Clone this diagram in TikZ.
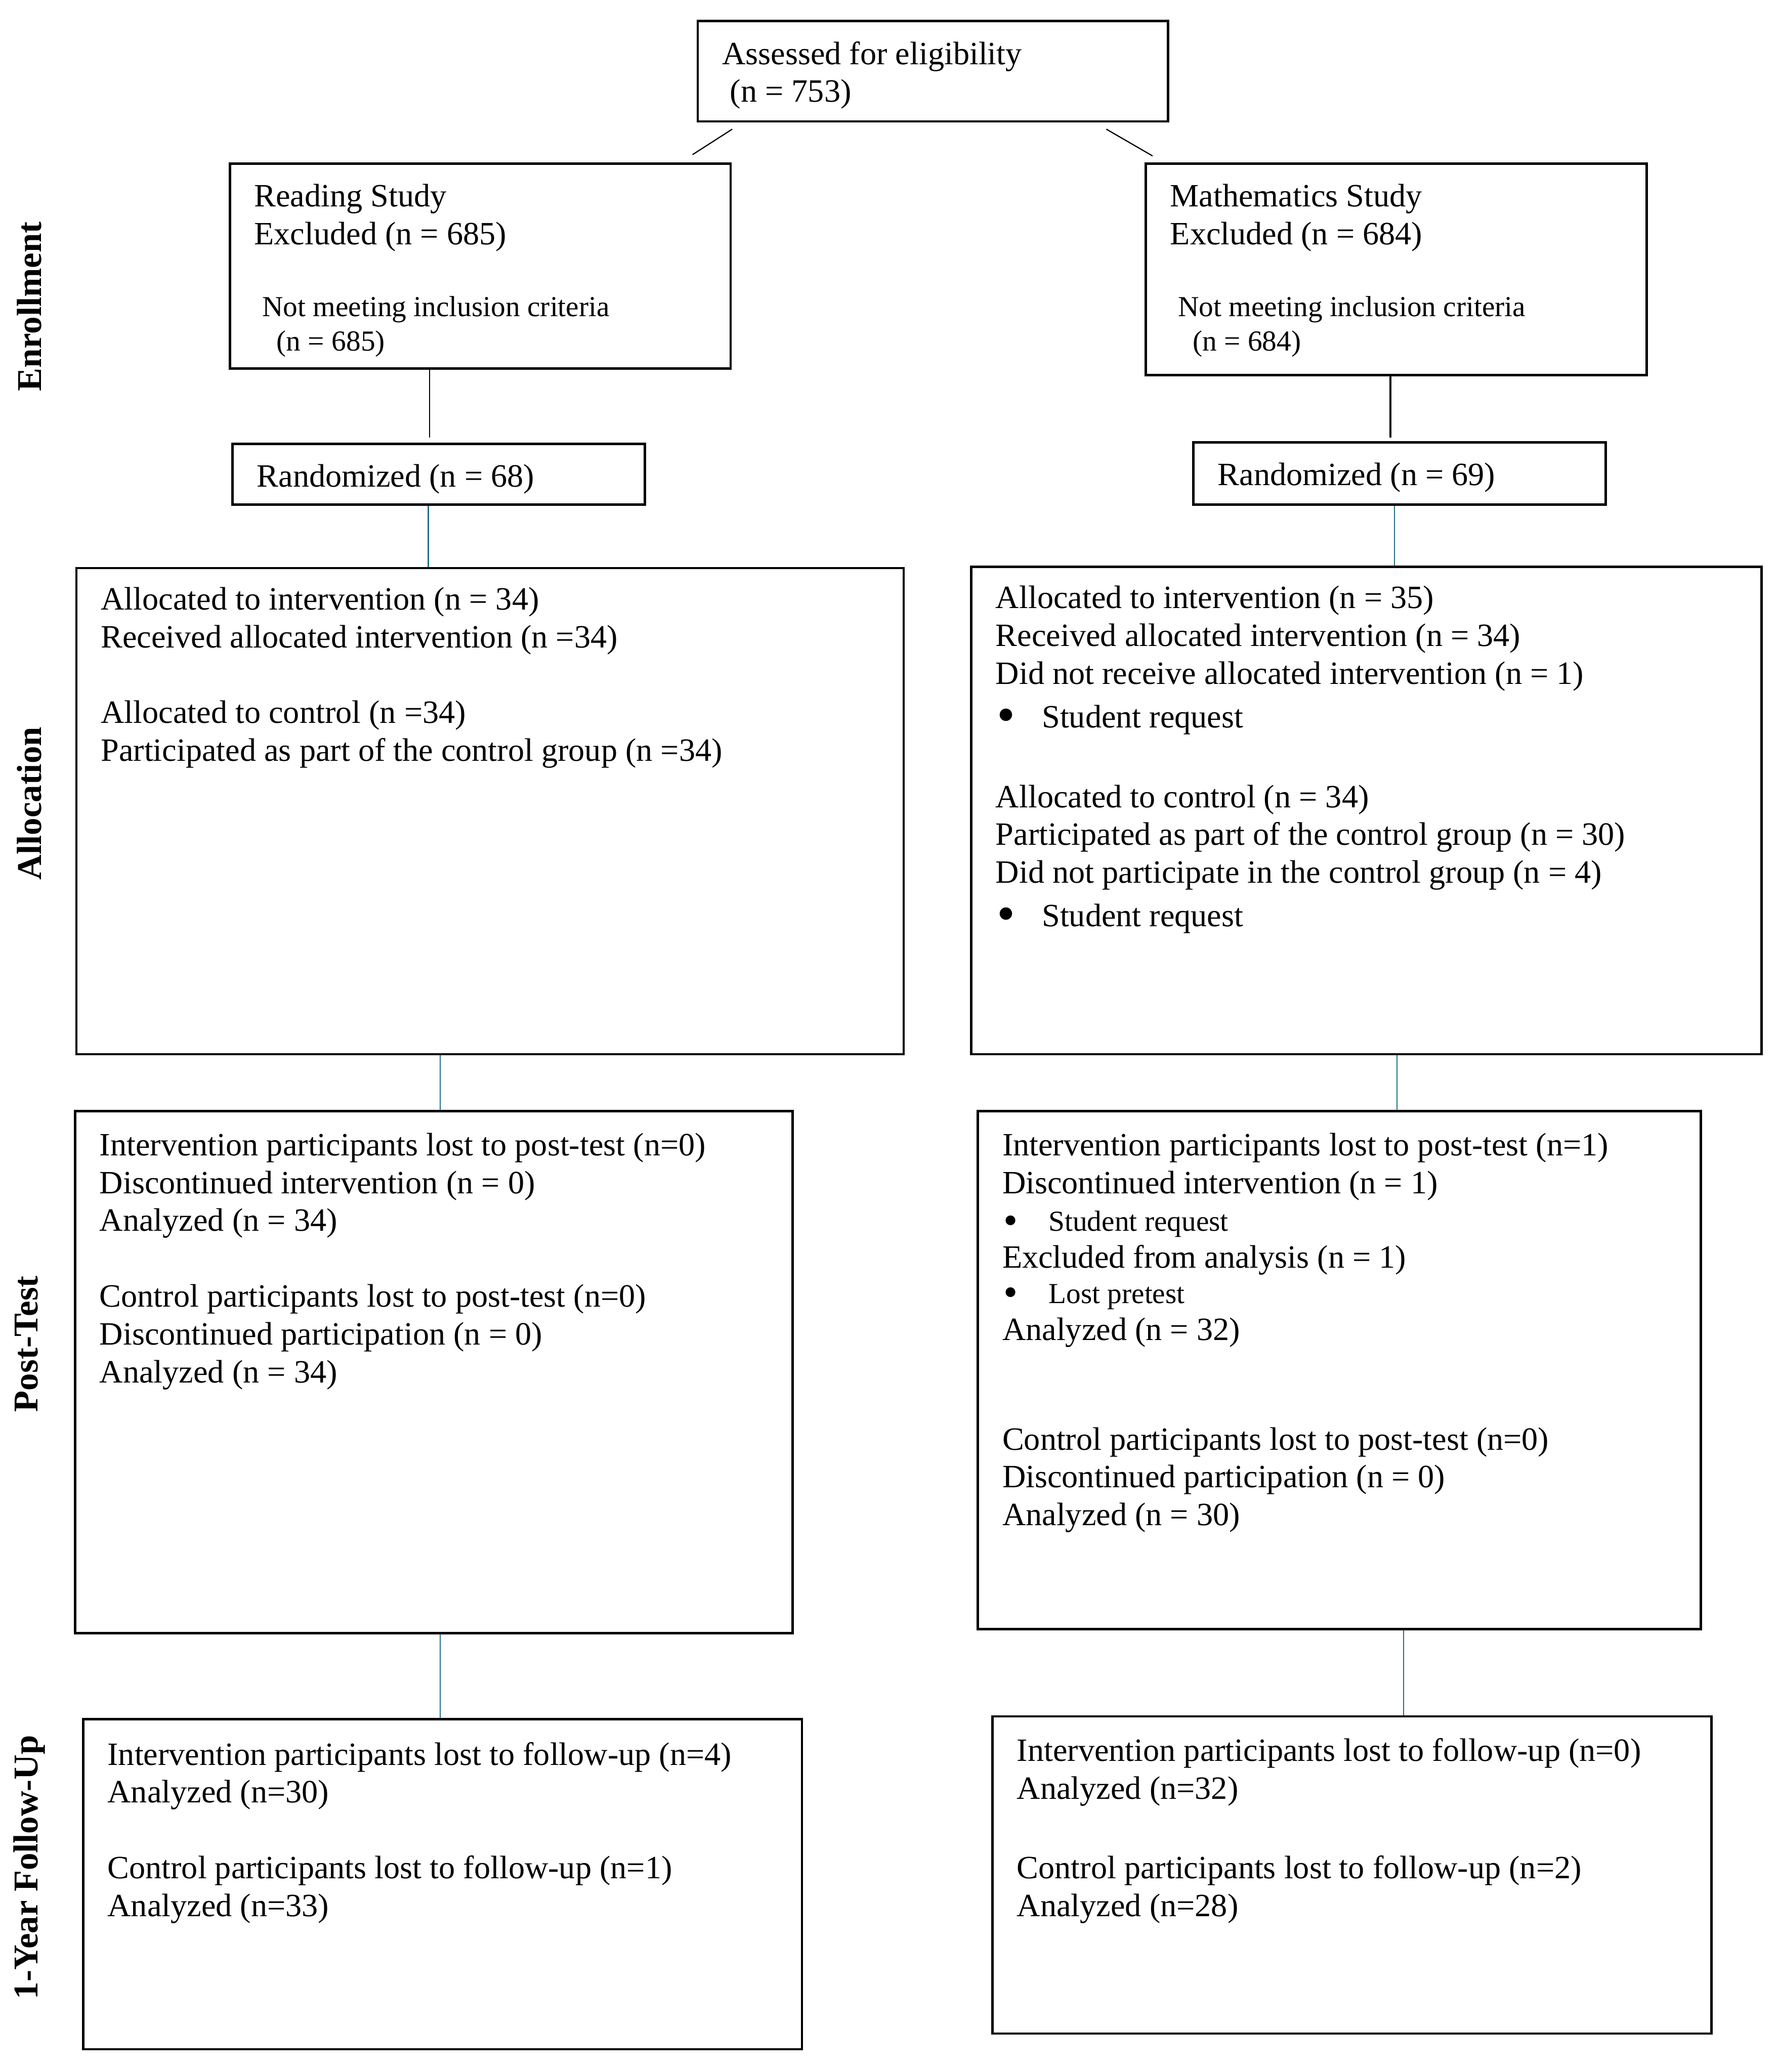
\documentclass[tikz,border=0pt]{standalone}
\usepackage{fontspec}
\setmainfont{Liberation Serif}
\usetikzlibrary{positioning}

\definecolor{linkblue}{RGB}{31,110,140}
\newcommand{\mainsize}{\fontsize{14}{16.3}\selectfont}
\newcommand{\smallsize}{\fontsize{12.5}{14.8}\selectfont}
\newcommand{\bul}[1]{\makebox[0.7cm][l]{\hspace{0.02cm}\raisebox{-0.3ex}{\scalebox{1.6}{\textbullet}}}#1}
\newcommand{\smallbul}[1]{{\smallsize\makebox[0.7cm][l]{\hspace{0.02cm}\raisebox{-0.2ex}{\scalebox{1.4}{\textbullet}}}#1}}

\tikzset{
    box/.style={draw, line width=1pt, anchor=north west, inner sep=0pt},
    txt/.style={anchor=north west, align=left, inner sep=0pt, font=\mainsize},
    smalltxt/.style={anchor=north west, align=left, inner sep=0pt, font=\smallsize},
    link/.style={line width=0.5pt, draw=linkblue},
    side/.style={rotate=90, inner sep=0pt, font=\fontsize{15}{18}\selectfont\bfseries}
}

\begin{document}
\begin{tikzpicture}[x=0.02cm, y=-0.02cm]
            \useasboundingbox (0,0) rectangle (1345,1568);

            \node[box, minimum width=7.12cm, minimum height=1.52cm] (assess) at (527,15) {};
            \node[box, minimum width=7.58cm, minimum height=3.10cm] (readex) at (173,123) {};
            \node[box, minimum width=7.58cm, minimum height=3.20cm] (mathex) at (866,123) {};
            \node[box, minimum width=6.24cm, minimum height=0.92cm] (readrand) at (175,335) {};
            \node[box, minimum width=6.24cm, minimum height=0.94cm] (mathrand) at (902,334) {};
            \node[box, minimum width=12.52cm, minimum height=7.36cm] (readalloc) at (57,429) {};
            \node[box, minimum width=11.96cm, minimum height=7.38cm] (mathalloc) at (734,428) {};
            \node[box, minimum width=10.86cm, minimum height=7.90cm] (readpost) at (56,840) {};
            \node[box, minimum width=10.94cm, minimum height=7.84cm] (mathpost) at (739,840) {};
            \node[box, minimum width=10.88cm, minimum height=5.00cm] (readfollow) at (62,1300) {};
            \node[box, minimum width=10.88cm, minimum height=4.80cm] (mathfollow) at (750,1298) {};

            \node[txt, below right=0.32cm and 0.38cm of assess.north west] (assesstxt)
                {Assessed for eligibility\\\hspace*{0.12cm}(n = 753)};
            \node[txt, below right=0.32cm and 0.38cm of readex.north west] (readextxt)
                {Reading Study\\Excluded (n = 685)};
            \node[smalltxt, below right=2.02cm and 0.5cm of readex.north west] (readexsub)
                {Not meeting inclusion criteria\\\hspace*{0.22cm}(n = 685)};
            \node[txt, below right=0.32cm and 0.38cm of mathex.north west] (mathextxt)
                {Mathematics Study\\Excluded (n = 684)};
            \node[smalltxt, below right=2.02cm and 0.5cm of mathex.north west] (mathexsub)
                {Not meeting inclusion criteria\\\hspace*{0.22cm}(n = 684)};
            \node[txt, below right=0.32cm and 0.38cm of readrand.north west] (readrandtxt)
                {Randomized (n = 68)};
            \node[txt, below right=0.32cm and 0.38cm of mathrand.north west] (mathrandtxt)
                {Randomized (n = 69)};

            \node[txt, below right=0.30cm and 0.38cm of readalloc.north west] (readalloctxt)
                {Allocated to intervention (n = 34)\\
                 Received allocated intervention (n =34)\\[16.3pt]
                 Allocated to control (n =34)\\
                 Participated as part of the control group (n =34)};
            \node[txt, below right=0.30cm and 0.38cm of mathalloc.north west] (mathalloctxt)
                {Allocated to intervention (n = 35)\\
                 Received allocated intervention (n = 34)\\
                 Did not receive allocated intervention (n = 1)\\[2.5pt]
                 \bul{Student request}\\[18pt]
                 Allocated to control (n = 34)\\
                 Participated as part of the control group (n = 30)\\
                 Did not participate in the control group (n = 4)\\[2.5pt]
                 \bul{Student request}};

            \node[txt, below right=0.34cm and 0.38cm of readpost.north west] (readposttxt)
                {Intervention participants lost to post-test (n=0)\\
                 Discontinued intervention (n = 0)\\
                 Analyzed (n = 34)\\[16.3pt]
                 Control participants lost to post-test (n=0)\\
                 Discontinued participation (n = 0)\\
                 Analyzed (n = 34)};
            \node[txt, below right=0.34cm and 0.38cm of mathpost.north west] (mathposttxt)
                {Intervention participants lost to post-test (n=1)\\
                 Discontinued intervention (n = 1)\\
                 \smallbul{Student request}\\[-0.5pt]
                 Excluded from analysis (n = 1)\\[-1pt]
                 \smallbul{Lost pretest}\\[-0.5pt]
                 Analyzed (n = 32)\\[31pt]
                 Control participants lost to post-test (n=0)\\
                 Discontinued participation (n = 0)\\
                 Analyzed (n = 30)};

            \node[txt, below right=0.36cm and 0.38cm of readfollow.north west] (readfollowtxt)
                {Intervention participants lost to follow-up (n=4)\\
                 Analyzed (n=30)\\[16.3pt]
                 Control participants lost to follow-up (n=1)\\
                 Analyzed (n=33)};
            \node[txt, below right=0.34cm and 0.38cm of mathfollow.north west] (mathfollowtxt)
                {Intervention participants lost to follow-up (n=0)\\
                 Analyzed (n=32)\\[18pt]
                 Control participants lost to follow-up (n=2)\\
                 Analyzed (n=28)};

            \node[side] (enrol) at (22,232) {Enrollment};
            \node[side] (alloc) at (22,608) {Allocation};
            \node[side] (post) at (20,1017) {Post-Test};
            \node[side] (follow) at (22,1413) {1-Year Follow-Up};

            \coordinate (rx1) at (325,0);
            \coordinate (rx2) at (324,0);
            \coordinate (rx3) at (333,0);
            \coordinate (mx1) at (1052,0);
            \coordinate (mx2) at (1055,0);
            \coordinate (mx3) at (1057,0);
            \coordinate (mx4) at (1062,0);

            \draw[line width=0.5pt] ([shift={(27,5)}]assess.south west) -- ([shift={(351,-6)}]readex.north west);
            \draw[line width=0.5pt] ([shift={(310,5)}]assess.south west) -- ([shift={(6,-5)}]mathex.north west);

            \draw[line width=0.5pt] (readex.south -| rx1) -- ([yshift=0.08cm]readrand.north -| rx1);
            \draw[line width=0.8pt] (mathex.south -| mx1) -- ([yshift=0.06cm]mathrand.north -| mx1);

            \draw[link] (readrand.south -| rx2) -- (readalloc.north -| rx2);
            \draw[link] (mathrand.south -| mx2) -- (mathalloc.north -| mx2);
            \draw[link] (readalloc.south -| rx3) -- (readpost.north -| rx3);
            \draw[link] (mathalloc.south -| mx3) -- (mathpost.north -| mx3);
            \draw[link] (readpost.south -| rx3) -- (readfollow.north -| rx3);
            \draw[link] (mathpost.south -| mx4) -- (mathfollow.north -| mx4);
        \end{tikzpicture}
\end{document}
